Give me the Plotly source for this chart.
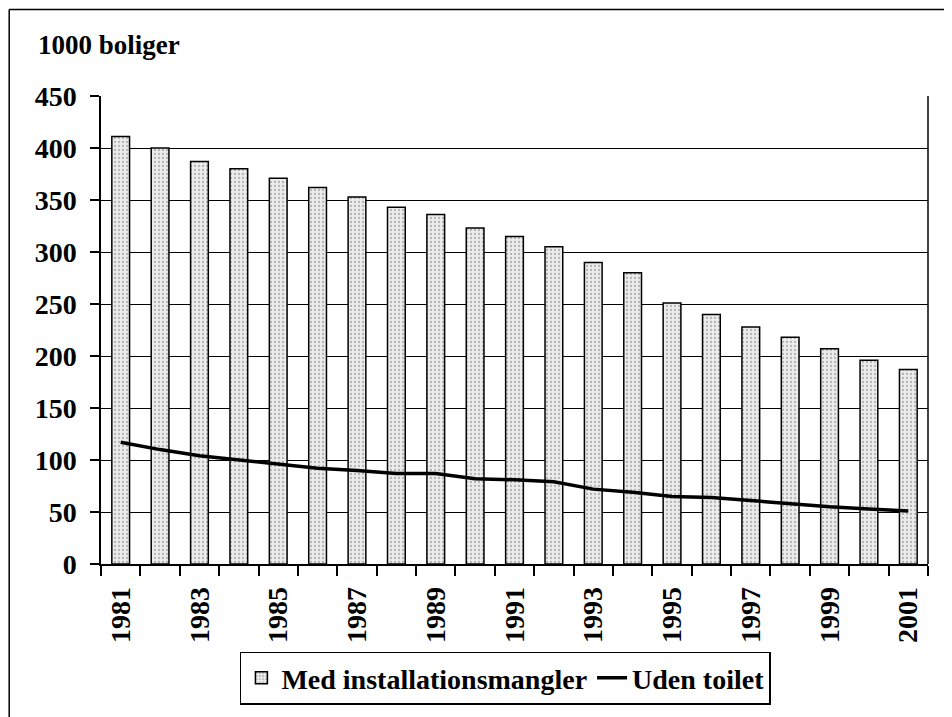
import plotly.graph_objects as go

years = list(range(1981, 2002))
med_install = [411, 400, 387, 380, 371, 362, 353, 343, 336, 323, 315, 305,
               290, 280, 251, 240, 228, 218, 207, 196, 187]
uden_toilet = [117, 110, 104, 100, 96, 92, 90, 87, 87, 82, 81, 79,
               72, 69, 65, 64, 61, 58, 55, 53, 51]
tick_years = list(range(1981, 2002, 2))
yticks = list(range(0, 451, 50))

FONT = "Times New Roman, Liberation Serif, DejaVu Serif, serif"

fig = go.Figure()
fig.add_trace(go.Bar(
    x=years, y=med_install, name="Med installationsmangler",
    width=0.45,
    marker=dict(color="#e8e8e8", line=dict(color="black", width=1.5),
                pattern=dict(shape=".", fgcolor="#7a7a7a", bgcolor="#ececec",
                             size=4, solidity=0.25)),
))
fig.add_trace(go.Scatter(
    x=years, y=uden_toilet, name="Uden toilet", mode="lines",
    line=dict(color="black", width=3.5),
))

# body margin of 8px in the page: figure is 944x709 placed at (8,8)
fig.update_layout(
    width=944, height=709,
    margin=dict(l=93, r=24, t=88, b=151),
    paper_bgcolor="white", plot_bgcolor="white",
    font=dict(family=FONT, size=28, color="black"),
    showlegend=True,
    legend=dict(orientation="h", x=0.489, xanchor="center", y=-0.187, yanchor="top",
                bordercolor="black", borderwidth=1.5, bgcolor="white",
                font=dict(family=FONT, size=28, color="black", weight="bold"),
                itemwidth=30, tracegroupgap=0),
    xaxis=dict(range=[1980.5, 2001.5], tickvals=tick_years,
               ticktext=[f"<b>{y}</b>" for y in tick_years],
               tickangle=-90, ticks="", showgrid=False,
               showline=True, linecolor="black", linewidth=1.5,
               tickfont=dict(family=FONT, size=28),
               ticklabelstandoff=10,
               minor=dict(tick0=1980.5, dtick=1, ticks="outside", ticklen=10,
                          tickcolor="black", tickwidth=1.5, showgrid=False),
               zeroline=False, mirror=False),
    yaxis=dict(range=[0, 450], tickvals=yticks,
               ticktext=[f"<b>{v}</b>" for v in yticks],
               ticks="outside", ticklen=9, tickcolor="black", tickwidth=1.5,
               showgrid=True, gridcolor="black", gridwidth=1.2,
               showline=True, linecolor="black", linewidth=1.5,
               tickfont=dict(family=FONT, size=28),
               ticklabelstandoff=8,
               zeroline=False),
)

# right border of plot area
fig.add_shape(type="line", xref="paper", yref="paper", x0=1, x1=1, y0=0, y1=1,
              line=dict(color="black", width=1.5))
# outer frame lines (left and top)
fig.add_shape(type="line", xref="paper", yref="paper", x0=-0.111, x1=-0.111,
              y0=1.185, y1=-0.33, line=dict(color="black", width=1.5))
fig.add_shape(type="line", xref="paper", yref="paper", x0=-0.111, x1=1.03,
              y0=1.185, y1=1.185, line=dict(color="black", width=1.5))

fig.add_annotation(xref="paper", yref="paper", x=-0.0786, y=1.1085,
                   xanchor="left", yanchor="middle", showarrow=False,
                   text="<b>1000 boliger</b>", font=dict(family=FONT, size=27))

fig.write_html("out.html")
